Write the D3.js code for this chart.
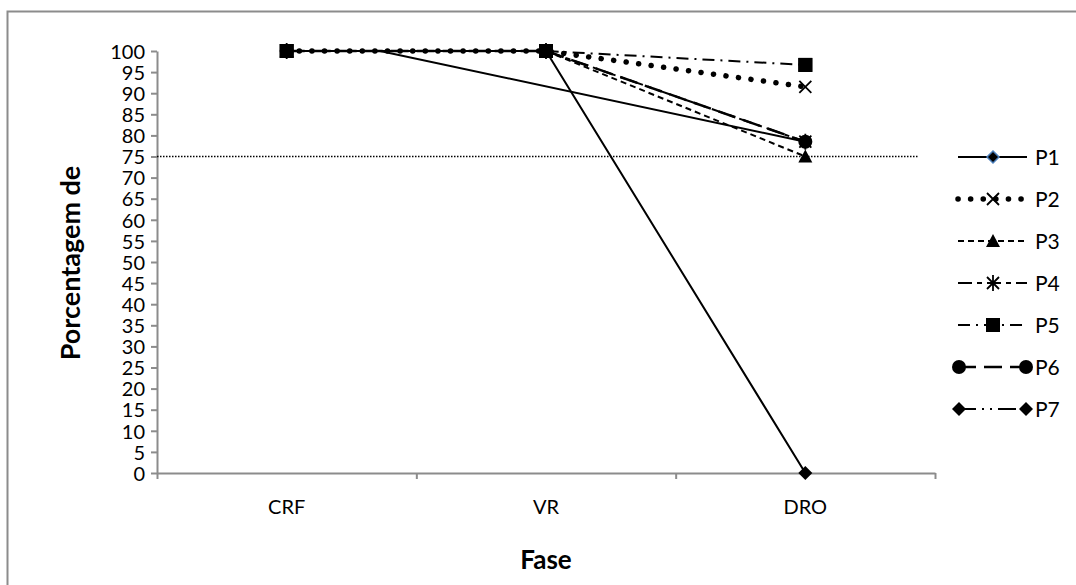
<!DOCTYPE html>
<html>
<head>
<meta charset="utf-8">
<script src="https://cdn.jsdelivr.net/npm/d3@7"></script>
<style>
  body { margin: 0; background: #fff; }
  text { font-family: Lato, "Open Sans", sans-serif; fill: #000; }
</style>
</head>
<body>
<div id="chart"></div>
<script>
// data
const categories = ["CRF", "VR", "DRO"];
const seriesNames = ["P1", "P2", "P3", "P4", "P5", "P6", "P7"];
// P1 leaves the 100 line part way between CRF and VR (category index 0.36)
const p1 = [[0, 100], [0.36, 100], [2, 78.5]];
const p2 = [100, 100, 91.5];
const p3 = [100, 100, 75];
const p4 = [100, 100, 78.5];
const p5 = [100, 100, 96.7];
const p6 = [100, 100, 78.5];
const p7 = [100, 100, 0];
const yTicks = d3.range(0, 101, 5);
const cutLine = 75;

const W = 1076, H = 585;
const margin = { top: 51, left: 157, right: 141, bottom: 112 };
const innerW = W - margin.left - margin.right;
const innerH = H - margin.top - margin.bottom;

const svg = d3.select("#chart").append("svg")
    .attr("width", W)
    .attr("height", H);

// outer frame
svg.append("rect")
    .attr("x", 7.5).attr("y", 11.5)
    .attr("width", 1100).attr("height", 600)
    .attr("fill", "none")
    .attr("stroke", "#8c8c8c")
    .attr("stroke-width", 2);

const g = svg.append("g")
    .attr("transform", `translate(${margin.left},${margin.top})`);

const x = d3.scaleLinear().domain([-0.5, categories.length - 0.5]).range([0, innerW]);
const xBand = d3.scaleBand().domain(categories).range([0, innerW]);
const y = d3.scaleLinear().domain([0, 100]).range([innerH, 0]);

// y axis
const yAxis = g.append("g")
    .call(d3.axisLeft(y).tickValues(yTicks).tickSize(6).tickSizeOuter(0).tickPadding(6));
yAxis.selectAll("text").style("font-size", "20px").attr("dy", "0.36em");

// x axis ticks at band edges
g.append("g")
    .attr("transform", `translate(0,${innerH})`)
    .call(d3.axisBottom(x).tickValues(d3.range(-0.5, categories.length, 1)).tickFormat("").tickSize(6).tickSizeOuter(0));
const xLabels = g.append("g")
    .attr("transform", `translate(0,${innerH})`)
    .call(d3.axisBottom(xBand).tickSize(0).tickPadding(27));
xLabels.select(".domain").remove();
xLabels.selectAll("text").style("font-size", "20px");

g.selectAll(".domain, .tick line").attr("stroke", "#8c8c8c").attr("stroke-width", 2);

// 75% reference line
g.append("line")
    .attr("x1", 0).attr("x2", 761)
    .attr("y1", y(cutLine)).attr("y2", y(cutLine))
    .attr("stroke", "#000").attr("stroke-width", 1.5)
    .attr("stroke-dasharray", "1.5,1.5");

// axis titles
svg.append("text")
    .attr("transform", "translate(80,263) rotate(-90)")
    .attr("text-anchor", "middle")
    .style("font-size", "27px").style("font-weight", "bold")
    .text("Porcentagem de");
svg.append("text")
    .attr("x", margin.left + innerW / 2).attr("y", 569)
    .attr("text-anchor", "middle")
    .style("font-size", "26px").style("font-weight", "bold")
    .text("Fase");

const toPts = vals => vals.map((v, i) => [i, v]);
const series = [
    { name: "P1", pts: p1, dash: null, width: 2, marker: null, legendMarker: "p1", ends: false },
    { name: "P2", pts: toPts(p2), dash: "0.1,12.5", width: 5.5, cap: "round", marker: "x", ends: false },
    { name: "P3", pts: toPts(p3), dash: "6,4", width: 2, marker: "tri", ends: false },
    { name: "P4", pts: toPts(p4), dash: "14,5,5,5", width: 2, marker: "star", ends: false },
    { name: "P5", pts: toPts(p5), dash: "12,6,2,6", width: 2, marker: "sq", ends: false },
    { name: "P6", pts: toPts(p6), dash: "18,8", width: 2.5, marker: "circle", ends: true },
    { name: "P7", pts: toPts(p7), dash: null, legendDash: "18,6,2,6,2,6", width: 2, marker: "diamond", ends: true }
];

const line = d3.line().x(d => x(d[0])).y(d => y(d[1]));

function drawMarker(sel, type, cx, cy) {
    if (type === "sq") {
        sel.append("rect").attr("x", cx - 7).attr("y", cy - 7).attr("width", 14).attr("height", 14).attr("fill", "#000");
    } else if (type === "circle") {
        sel.append("circle").attr("cx", cx).attr("cy", cy).attr("r", 7).attr("fill", "#000");
    } else if (type === "diamond") {
        sel.append("path").attr("d", `M${cx},${cy - 7}L${cx + 7},${cy}L${cx},${cy + 7}L${cx - 7},${cy}Z`).attr("fill", "#000");
    } else if (type === "tri") {
        sel.append("path").attr("d", `M${cx},${cy - 7}L${cx + 7},${cy + 6}L${cx - 7},${cy + 6}Z`).attr("fill", "#000");
    } else if (type === "x") {
        sel.append("path").attr("d", `M${cx - 6},${cy - 6}L${cx + 6},${cy + 6}M${cx + 6},${cy - 6}L${cx - 6},${cy + 6}`)
            .attr("stroke", "#000").attr("stroke-width", 1.8).attr("fill", "none");
    } else if (type === "star") {
        sel.append("path").attr("d", `M${cx - 6},${cy - 6}L${cx + 6},${cy + 6}M${cx + 6},${cy - 6}L${cx - 6},${cy + 6}M${cx},${cy - 8}L${cx},${cy + 8}`)
            .attr("stroke", "#000").attr("stroke-width", 1.8).attr("fill", "none");
    } else if (type === "p1") {
        sel.append("path").attr("d", `M${cx},${cy - 6}L${cx + 6},${cy}L${cx},${cy + 6}L${cx - 6},${cy}Z`)
            .attr("fill", "#000").attr("stroke", "#4a7ebb").attr("stroke-width", 1.5);
    }
}

// lines
series.forEach(s => {
    g.append("path")
        .datum(s.pts)
        .attr("d", line)
        .attr("fill", "none")
        .attr("stroke", "#000")
        .attr("stroke-width", s.width)
        .attr("stroke-linecap", s.cap || "butt")
        .attr("stroke-dasharray", s.dash);
});

// markers
series.forEach(s => {
    if (!s.marker) return;
    const mg = g.append("g");
    s.pts.forEach(p => drawMarker(mg, s.marker, x(p[0]), y(p[1])));
});
// squares on top where everything overlaps at 100
const topG = g.append("g");
series[4].pts.forEach(p => drawMarker(topG, "sq", x(p[0]), y(p[1])));

// legend
const legend = svg.append("g").attr("transform", "translate(958,157)");
series.forEach((s, i) => {
    const row = legend.append("g").attr("transform", `translate(0,${i * 42})`);
    row.append("line")
        .attr("x1", 0).attr("x2", 69).attr("y1", 0).attr("y2", 0)
        .attr("stroke", "#000")
        .attr("stroke-width", s.width)
        .attr("stroke-linecap", s.cap || "butt")
        .attr("stroke-dasharray", s.legendDash || s.dash);
    const mk = s.legendMarker || s.marker;
    if (s.ends) {
        drawMarker(row, mk, 1, 0);
        drawMarker(row, mk, 68, 0);
    } else {
        drawMarker(row, mk, 35, 0);
    }
    row.append("text")
        .attr("x", 77).attr("y", 0).attr("dy", "0.36em")
        .style("font-size", "21px")
        .text(s.name);
});
</script>
</body>
</html>
